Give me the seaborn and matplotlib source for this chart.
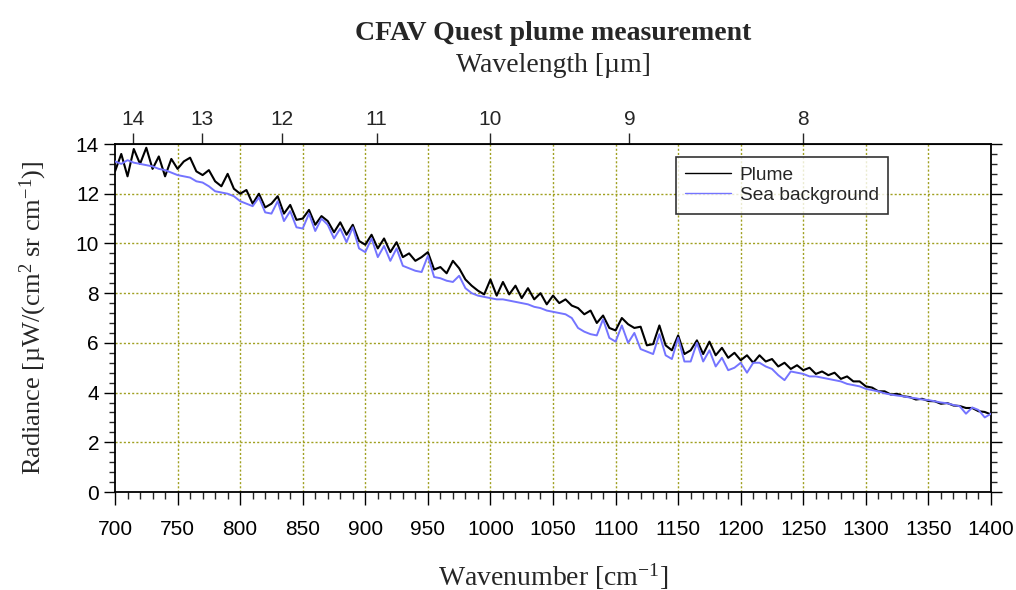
import numpy as np
import pandas as pd
import matplotlib
matplotlib.use("Agg")
import matplotlib.pyplot as plt
from matplotlib.ticker import MultipleLocator, FixedLocator
import seaborn as sns

# Spectral grid (cm^-1), 5 cm^-1 spacing
wavenumber = list(range(700, 1401, 5))

# Radiance in uW/(cm^2 sr cm^-1)
plume = [
    12.9, 13.6, 12.7, 13.8, 13.2, 13.85, 13.0, 13.5, 12.7, 13.4,
    13.0, 13.3, 13.45, 12.9, 12.75, 12.95, 12.5, 12.3, 12.8, 12.2,
    12.0, 12.15, 11.6, 12.0, 11.45, 11.6, 11.9, 11.2, 11.55, 10.95,
    11.0, 11.35, 10.75, 11.1, 10.9, 10.45, 10.85, 10.35, 10.75, 10.1,
    9.95, 10.35, 9.8, 10.2, 9.65, 10.05, 9.45, 9.6, 9.3, 9.45,
    9.65, 8.95, 9.05, 8.8, 9.3, 9.0, 8.55, 8.3, 8.1, 7.95,
    8.55, 7.9, 8.45, 7.95, 8.3, 7.8, 8.2, 7.75, 8.0, 7.55,
    7.9, 7.6, 7.75, 7.5, 7.4, 7.15, 7.3, 6.8, 7.1, 6.6,
    6.5, 7.0, 6.75, 6.6, 6.65, 5.9, 5.95, 6.7, 5.9, 5.7,
    6.3, 5.55, 5.7, 6.1, 5.55, 6.05, 5.5, 5.8, 5.4, 5.6,
    5.3, 5.5, 5.2, 5.5, 5.25, 5.35, 5.05, 5.2, 4.95, 5.1,
    4.9, 5.0, 4.75, 4.85, 4.7, 4.8, 4.55, 4.65, 4.45, 4.45,
    4.25, 4.2, 4.05, 4.05, 3.92, 3.95, 3.85, 3.82, 3.72, 3.75,
    3.66, 3.65, 3.55, 3.58, 3.48, 3.46, 3.38, 3.38, 3.25, 3.22,
    3.12,
]

sea_background = [
    13.3, 13.2, 13.35, 13.25, 13.2, 13.15, 13.1, 13.0, 12.95, 12.85,
    12.75, 12.7, 12.65, 12.5, 12.45, 12.3, 12.1, 12.05, 12.0, 11.9,
    11.7, 11.6, 11.5, 11.85, 11.25, 11.2, 11.7, 10.9, 11.3, 10.65,
    10.6, 11.2, 10.5, 11.0, 10.75, 10.2, 10.6, 10.05, 10.65, 9.8,
    9.65, 10.2, 9.45, 9.9, 9.3, 9.8, 9.1, 9.0, 8.9, 8.85,
    9.5, 8.65, 8.6, 8.5, 8.45, 8.7, 8.2, 8.0, 7.9, 7.85,
    7.8, 7.75, 7.75, 7.7, 7.65, 7.6, 7.55, 7.45, 7.4, 7.3,
    7.25, 7.2, 7.15, 7.0, 6.6, 6.45, 6.35, 6.3, 6.95, 6.2,
    6.05, 6.7, 6.0, 6.4, 5.75, 5.65, 5.55, 6.35, 5.5, 5.35,
    6.2, 5.25, 5.25, 6.0, 5.25, 5.7, 5.05, 5.4, 4.9, 5.0,
    5.2, 4.8, 5.2, 5.2, 5.05, 4.95, 4.7, 4.5, 4.85, 4.8,
    4.75, 4.65, 4.65, 4.6, 4.55, 4.5, 4.45, 4.35, 4.3, 4.25,
    4.15, 4.1, 4.05, 3.97, 3.92, 3.88, 3.85, 3.8, 3.77, 3.72,
    3.7, 3.65, 3.6, 3.57, 3.5, 3.45, 3.15, 3.4, 3.3, 3.0,
    3.15,
]

wavelength_ticks = [14, 13, 12, 11, 10, 9, 8]

df = pd.DataFrame({"wn": wavenumber, "plume": plume, "sea": sea_background})

sns.set_style("ticks")
plt.rcParams["font.family"] = ["Liberation Sans", "DejaVu Sans"]
plt.rcParams["mathtext.fontset"] = "custom"
plt.rcParams["mathtext.rm"] = "Liberation Serif"
plt.rcParams["mathtext.it"] = "Liberation Serif:italic"

serif = ["Liberation Serif", "DejaVu Serif"]

fig = plt.figure(figsize=(10.16, 5.90), dpi=100)
ax = fig.add_axes([0.1132, 0.1661, 0.8622, 0.5898])

grid_color = "#a0a020"
for v in range(750, 1400, 50):
    ax.axvline(v, color=grid_color, lw=1.0, ls=(0, (1.5, 1.5)), zorder=0)
for v in range(2, 14, 2):
    ax.axhline(v, color=grid_color, lw=1.0, ls=(0, (1.5, 1.5)), zorder=0)

sns.lineplot(data=df, x="wn", y="plume", ax=ax, color="black", lw=1.5,
             label="Plume", zorder=2)
sns.lineplot(data=df, x="wn", y="sea", ax=ax, color="#7474ff", lw=1.4,
             label="Sea background", zorder=3)

ax.set_xlim(700, 1400)
ax.set_ylim(0, 14)
ax.xaxis.set_major_locator(MultipleLocator(50))
ax.xaxis.set_minor_locator(MultipleLocator(10))
ax.yaxis.set_major_locator(MultipleLocator(2))
ax.yaxis.set_minor_locator(MultipleLocator(0.4))

for s in ax.spines.values():
    s.set_color("black")
    s.set_linewidth(1.3)

ax.tick_params(axis="x", which="major", direction="out", length=9, width=1,
               labelsize=15, pad=11, colors="black")
ax.tick_params(axis="x", which="minor", direction="out", length=5, width=1)
ax.tick_params(axis="y", which="major", direction="out", length=8, width=1,
               labelsize=15, right=True, colors="black")
ax.tick_params(axis="y", which="minor", direction="out", length=4, width=1,
               right=True)

ax.set_xlabel("Wavenumber [cm$^{-1}$]", fontsize=20, family=serif, labelpad=16)
ax.set_ylabel("Radiance [µW/(cm$^{2}$ sr cm$^{-1}$)]", fontsize=19,
              family=serif, labelpad=19)

top = ax.secondary_xaxis("top", functions=(lambda w: 1e4 / np.clip(w, 1, None),
                                           lambda l: 1e4 / np.clip(l, 1e-3, None)))
top.xaxis.set_major_locator(FixedLocator(wavelength_ticks))
top.xaxis.set_minor_locator(FixedLocator([]))
top.tick_params(axis="x", which="major", direction="out", length=8, width=1,
                labelsize=15, pad=3)
top.set_xticklabels([str(t) for t in wavelength_ticks])
top.set_xlabel("Wavelength [µm]", fontsize=20, family=serif, labelpad=27)

ax.set_title("CFAV Quest plume measurement", fontsize=20, family=serif,
             fontweight="bold", y=1.0, pad=75)

leg = ax.legend(loc="upper left", bbox_to_anchor=(0.640, 0.963), fontsize=13.8,
                frameon=True, fancybox=False, handlelength=2.4,
                handletextpad=0.45, borderpad=0.5, labelspacing=0.15,
                borderaxespad=0)
leg.get_frame().set_edgecolor("black")
leg.get_frame().set_linewidth(1.2)
for line in leg.get_lines():
    line.set_linewidth(1.0)

fig.savefig("out.png", dpi=100)
